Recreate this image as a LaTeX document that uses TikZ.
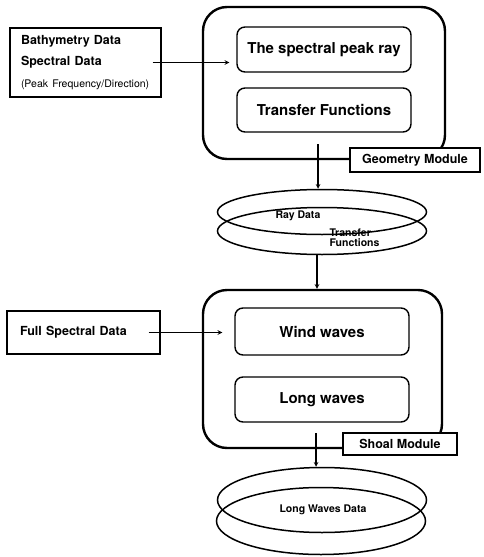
\documentclass[tikz,border=0pt]{standalone}
\usepackage{fontspec}
\setmainfont{TeX Gyre Heros}
\usetikzlibrary{arrows, shapes.geometric}

\begin{document}
\begin{tikzpicture}[> = stealth, % arrow head style
        x = 1pt, y = -1pt, % picture units, y grows downward
        line width = 1.1pt % line style
    ]

    \tikzstyle{module}=[draw = black, line width = 2.4pt, rounded corners = 24pt,
    inner sep = 0pt]
    \tikzstyle{inbox}=[draw = black, line width = 1.4pt, rounded corners = 8pt,
    minimum width = 174pt, font = \fontsize{15}{18}\selectfont\bfseries]
    \tikzstyle{data}=[draw = black, line width = 1.1pt, align = left,
    font = \fontsize{12.5}{21.5}\selectfont\bfseries]
    \tikzstyle{tag}=[draw = black, fill = white, line width = 1.1pt, inner sep = 0pt,
    font = \fontsize{12.5}{15}\selectfont\bfseries]
    \tikzstyle{store}=[draw = black, ellipse, line width = 1.5pt, inner sep = 0pt,
    minimum width = 209pt]
    \tikzstyle{storetext}=[inner sep = 0pt, align = left,
    font = \fontsize{10.5}{10}\selectfont\bfseries]

    \useasboundingbox (0,0) rectangle (483,557);

    % geometry module
    \node[module, minimum width = 242pt, minimum height = 152pt] (geom) at (324,83) {};
    \node[inbox, minimum height = 45pt] (peak) at (324,49.5) {The spectral peak ray};
    \node[inbox, minimum height = 44pt] (tf) at (324,110) {Transfer Functions};
    \node[tag, minimum width = 130pt, minimum height = 24pt] (geomtag) at (415,160)
    {Geometry Module};

    \node[data, text width = 129pt, inner xsep = 11pt, minimum height = 69pt]
    (bathy) at (85.5,62.5) {Bathymetry Data\\ Spectral Data\\
    {\fontsize{10.5}{21.5}\selectfont\mdseries (Peak Frequency/Direction)}};

    % ray data store
    \node[store, minimum height = 45pt] (ray1) at (322,212) {};
    \node[store, minimum height = 47pt] (ray2) at (322,231) {};
    \node[storetext, anchor = west] (raytext) at (275,216) {Ray Data};
    \node[storetext, anchor = west] (tftext) at (329,238) {Transfer\\ Functions};

    % shoal module
    \node[module, minimum width = 239pt, minimum height = 158pt] (shoal) at (322.5,369) {};
    \node[inbox, minimum height = 47pt] (wind) at (322,331.5) {Wind waves};
    \node[inbox, minimum height = 45pt] (long) at (322,399.5) {Long waves};
    \node[tag, minimum width = 114pt, minimum height = 22pt] (shoaltag) at (400,444)
    {Shoal Module};

    \node[data, text width = 127pt, inner xsep = 13pt, minimum height = 43pt]
    (full) at (83.5,332.5) {Full Spectral Data};

    % long waves store
    \node[store, minimum height = 65pt] (wave1) at (322,500) {};
    \node[store, minimum height = 67pt] (wave2) at (321,521) {};
    \node[storetext] (wavetext) at (323,510) {Long Waves Data};

    \path[->] ([xshift = -9pt]bathy.east) edge ([xshift = -7pt]bathy.east -| peak.west);
    \path[->] ([xshift = -12pt]full.east) edge ([xshift = -12pt]full.east -| wind.west);
    \path[->] ([xshift = -6pt, yshift = 16pt]geom.south) edge ([xshift = -4pt]ray1.north);
    \path[->] ([xshift = -5pt]ray2.south) edge ([xshift = -5.5pt]shoal.north);
    \path[->] ([xshift = -6.5pt, yshift = 16pt]shoal.south) edge ([xshift = -6pt]wave1.north);
\end{tikzpicture}
\end{document}
